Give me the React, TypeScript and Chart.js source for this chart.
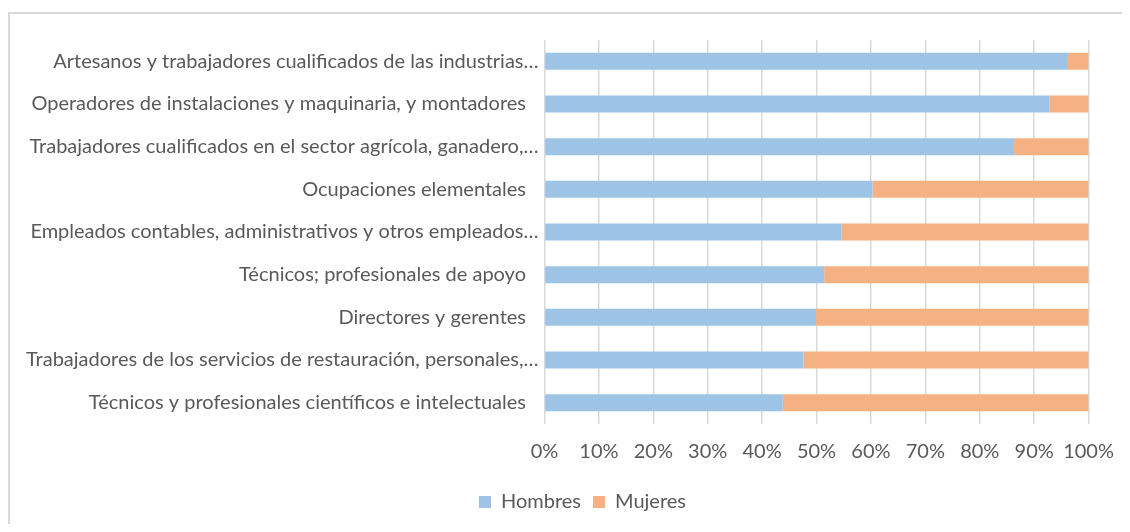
import React, { useEffect, useRef } from "react";
import { Chart, registerables } from "chart.js";

Chart.register(...registerables);

const categories: string[] = [
  "Artesanos y trabajadores cualificados de las industrias…",
  "Operadores de instalaciones y maquinaria, y montadores\u2002\u2009",
  "Trabajadores cualificados en el sector agrícola, ganadero,…",
  "Ocupaciones elementales\u2002\u2009",
  "Empleados contables, administrativos y otros empleados…",
  "Técnicos; profesionales de apoyo\u2002\u2009",
  "Directores y gerentes\u2002\u2009",
  "Trabajadores de los servicios de restauración, personales,…",
  "Técnicos y profesionales científicos e intelectuales\u2002\u2009",
];

const hombres: number[] = [96.2, 92.8, 86.3, 60.3, 54.6, 51.4, 49.9, 47.6, 43.8];
const mujeres: number[] = [3.8, 7.2, 13.7, 39.7, 45.4, 48.6, 50.1, 52.4, 56.2];

const xTicks: number[] = [0, 10, 20, 30, 40, 50, 60, 70, 80, 90, 100];

const FONT = "Lato";
const TEXT = "#595959";

const shiftLegend = {
  id: "shiftLegend",
  afterLayout(chart: any) {
    const l = chart.legend;
    if (l) {
      l.left += 25;
      l.right += 25;
    }
  },
};

export default function App() {
  const ref = useRef<HTMLCanvasElement | null>(null);

  useEffect(() => {
    document.documentElement.style.overflow = "hidden";
    const canvas = ref.current;
    if (!canvas) return;
    const chart = new Chart(canvas, {
      type: "bar",
      data: {
        labels: categories,
        datasets: [
          {
            label: "Hombres",
            data: hombres,
            backgroundColor: "#9DC3E6",
            borderWidth: 0,
            barPercentage: 0.4,
            categoryPercentage: 1,
          },
          {
            label: "Mujeres",
            data: mujeres,
            backgroundColor: "#F4B183",
            borderWidth: 0,
            barPercentage: 0.4,
            categoryPercentage: 1,
          },
        ],
      },
      options: {
        indexAxis: "y",
        responsive: false,
        animation: false,
        devicePixelRatio: 1,
        layout: { padding: { top: 26, right: 35, bottom: 0, left: 10 } },
        plugins: {
          legend: {
            position: "bottom",
            labels: {
              color: TEXT,
              font: { family: FONT, size: 20 },
              boxWidth: 12,
              boxHeight: 12,
              padding: 12,
            },
          },
          tooltip: { enabled: false },
        },
        scales: {
          x: {
            stacked: true,
            min: 0,
            max: 100,
            afterBuildTicks: (axis: any) => {
              axis.ticks = xTicks.map((v) => ({ value: v }));
            },
            ticks: {
              color: TEXT,
              font: { family: FONT, size: 20 },
              padding: 16,
              callback: (v: any) => v + "%",
              maxRotation: 0,
              autoSkip: false,
            },
            grid: { color: "#D9D9D9", lineWidth: 1.5, drawTicks: false },
            border: { display: false },
          },
          y: {
            stacked: true,
            ticks: {
              color: TEXT,
              font: { family: FONT, size: 20 },
              padding: 6,
              autoSkip: false,
            },
            grid: { display: false, drawTicks: false },
            border: { display: false },
          },
        },
      },
      plugins: [shiftLegend],
    });
    return () => chart.destroy();
  }, []);

  return (
    <div style={{ paddingTop: 4 }}>
      <div
        style={{
          width: 1120,
          height: 512,
          boxSizing: "border-box",
          borderTop: "2px solid #D9D9D9",
          borderLeft: "2px solid #D9D9D9",
          background: "#fff",
        }}
      >
        <canvas ref={ref} width={1120} height={508} style={{ display: "block" }} />
      </div>
    </div>
  );
}
